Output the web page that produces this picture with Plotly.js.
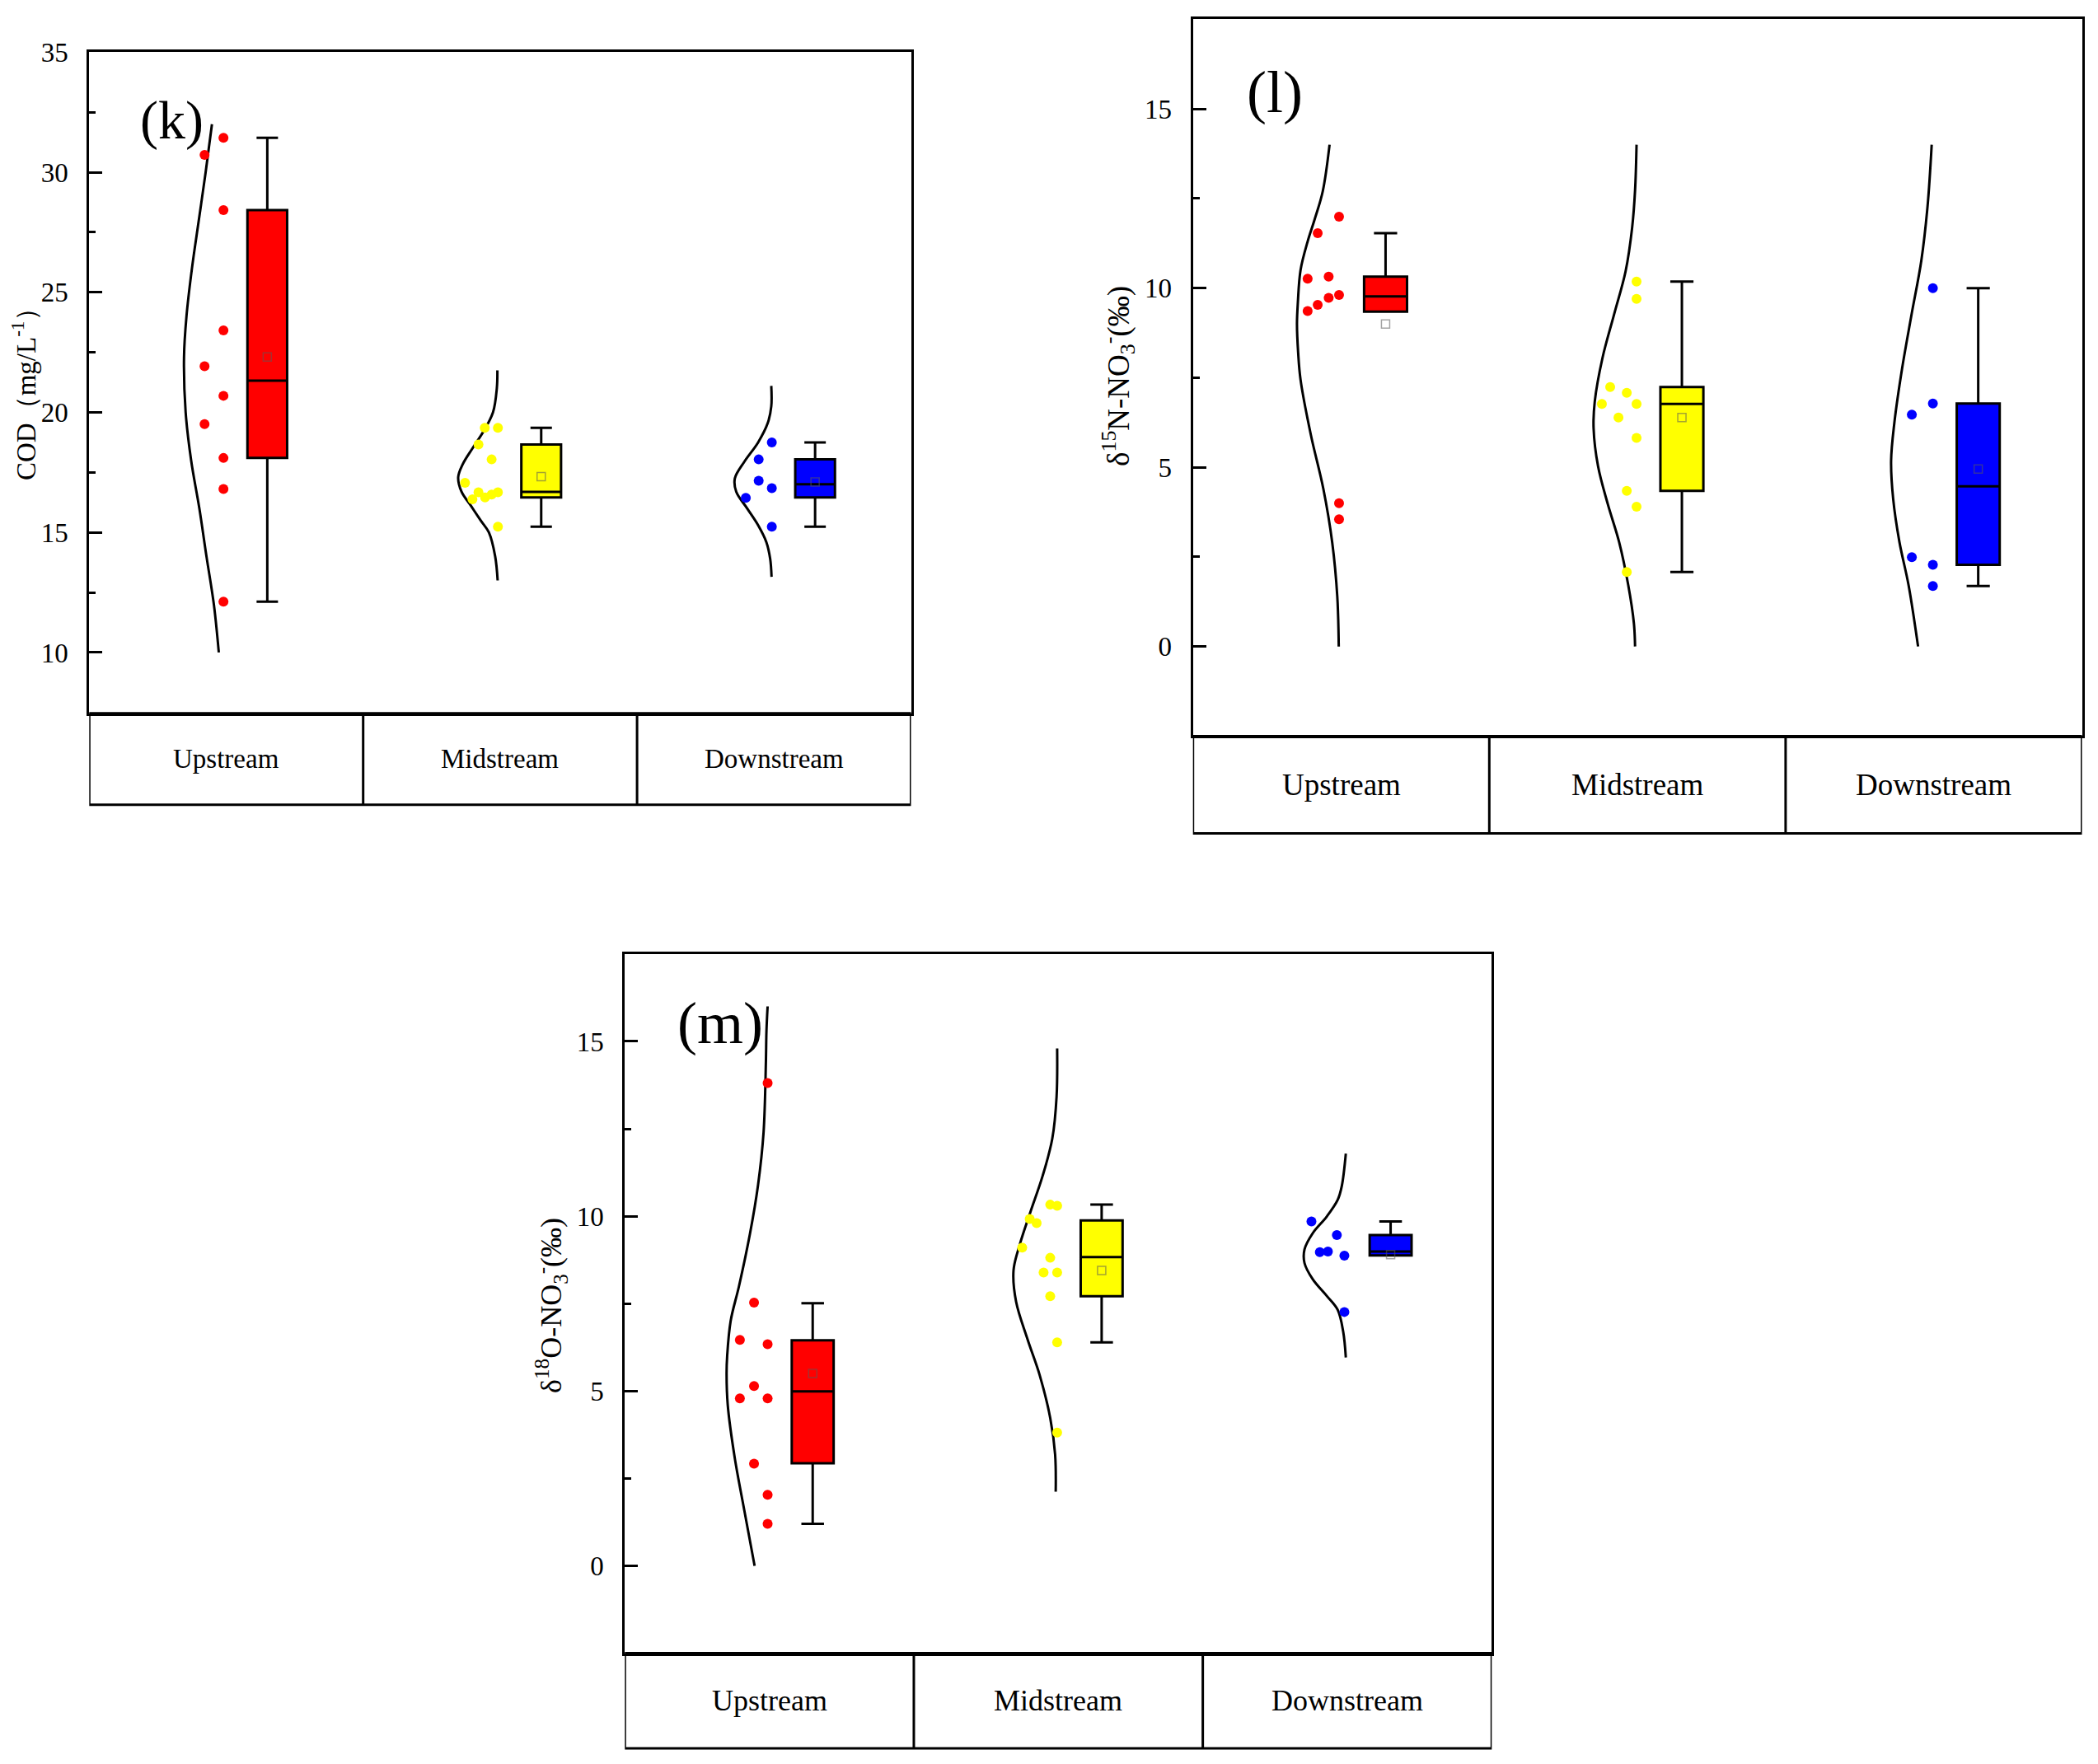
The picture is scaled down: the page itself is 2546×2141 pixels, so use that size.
<!DOCTYPE html>
<html><head><meta charset="utf-8">
<script src="https://cdn.plot.ly/plotly-3.0.1.min.js"></script>
<style>html,body{margin:0;padding:0;background:#fff;} #chart{width:2546px;height:2141px;}</style>
</head><body><div id="chart"></div>
<script>
// ---------------- DATA ----------------
const categories = ["Upstream", "Midstream", "Downstream"];
const groupColors = ["#FF0000", "#FFFF00", "#0000FF"];

// Panel (k) COD (mg/L-1)
const k_up_vals   = [31.43, 30.72, 28.42, 23.41, 21.92, 20.69, 19.51, 18.10, 16.81, 12.12];
const k_up_pos    = [0.490, 0.421, 0.490, 0.490, 0.421, 0.490, 0.421, 0.490, 0.490, 0.490];
const k_mid_vals  = [19.36, 19.36, 18.66, 18.04, 17.07, 16.67, 16.67, 16.58, 16.46, 16.38, 15.24];
const k_mid_pos   = [0.444, 0.492, 0.421, 0.469, 0.372, 0.421, 0.492, 0.469, 0.445, 0.399, 0.492];
const k_down_vals = [18.75, 18.04, 17.15, 16.84, 16.44, 15.24];
const k_down_pos  = [0.492, 0.444, 0.444, 0.492, 0.397, 0.492];
const k_lower  = [12.12, 15.24, 15.24];
const k_q1     = [18.10, 16.46, 16.46];
const k_median = [21.32, 16.69, 17.01];
const k_q3     = [28.42, 18.66, 18.04];
const k_upper  = [31.43, 19.36, 18.75];
const k_mean   = [22.31, 17.32, 17.10];
const k_curve_up_y   = [32.0, 30.0, 28.0, 26.0, 24.0, 22.3, 20.0, 18.0, 16.0, 14.0, 12.0, 10.0];
const k_curve_up_x   = [0.448, 0.425, 0.400, 0.375, 0.355, 0.346, 0.352, 0.372, 0.402, 0.428, 0.455, 0.473];
const k_curve_mid_y  = [21.75, 21.0, 20.0, 19.2, 18.5, 17.85, 17.3, 16.7, 16.1, 15.5, 15.0, 14.0, 13.0];
const k_curve_mid_x  = [0.490, 0.488, 0.474, 0.439, 0.399, 0.364, 0.347, 0.359, 0.394, 0.429, 0.459, 0.482, 0.491];
const k_curve_down_y = [21.1, 20.25, 19.55, 18.75, 17.95, 17.25, 16.7, 16.0, 15.3, 14.6, 13.9, 13.15];
const k_curve_down_x = [0.490, 0.490, 0.477, 0.442, 0.392, 0.357, 0.362, 0.402, 0.442, 0.472, 0.486, 0.491];

// Panel (l) d15N-NO3- (permil)
const l_up_vals   = [11.99, 11.53, 10.26, 10.32, 9.81, 9.73, 9.53, 9.36, 4.00, 3.55];
const l_up_pos    = [0.493, 0.421, 0.387, 0.458, 0.493, 0.458, 0.421, 0.387, 0.493, 0.493];
const l_mid_vals  = [10.18, 9.70, 7.24, 7.08, 6.77, 6.77, 6.39, 5.82, 4.34, 3.90, 2.08];
const l_mid_pos   = [0.497, 0.497, 0.408, 0.464, 0.380, 0.497, 0.436, 0.497, 0.464, 0.497, 0.464];
const l_down_vals = [10.00, 6.78, 6.47, 2.49, 2.28, 1.69];
const l_down_pos  = [0.497, 0.497, 0.426, 0.426, 0.497, 0.497];
const l_lower  = [9.34, 2.08, 1.69];
const l_q1     = [9.34, 4.34, 2.28];
const l_median = [9.77, 6.77, 4.47];
const l_q3     = [10.32, 7.24, 6.78];
const l_upper  = [11.53, 10.18, 10.00];
const l_mean   = [9.00, 6.39, 4.95];
const l_curve_up_y   = [14.0, 12.7, 11.9, 11.3, 10.5, 9.6, 9.0, 8.2, 7.45, 5.9, 4.4, 2.9, 1.4, 0];
const l_curve_up_x   = [0.461, 0.438, 0.410, 0.387, 0.363, 0.354, 0.351, 0.355, 0.363, 0.398, 0.440, 0.470, 0.487, 0.492];
const l_curve_mid_y  = [14.0, 12.73, 11.68, 10.47, 9.26, 8.05, 6.84, 6.09, 5.03, 3.97, 2.92, 1.71, 0.65, 0];
const l_curve_mid_x  = [0.497, 0.492, 0.482, 0.460, 0.421, 0.382, 0.356, 0.352, 0.367, 0.400, 0.438, 0.469, 0.488, 0.492];
const l_curve_down_y = [14.0, 12.28, 10.77, 9.26, 7.75, 6.24, 5.18, 4.12, 2.92, 1.71, 0];
const l_curve_down_x = [0.493, 0.479, 0.458, 0.425, 0.393, 0.367, 0.356, 0.363, 0.384, 0.415, 0.447];

// Panel (m) d18O-NO3- (permil)
const m_up_vals   = [13.81, 7.53, 6.46, 6.34, 5.14, 4.79, 4.79, 2.92, 2.03, 1.20];
const m_up_pos    = [0.494, 0.447, 0.398, 0.494, 0.447, 0.398, 0.494, 0.447, 0.494, 0.494];
const m_mid_vals  = [10.33, 10.30, 9.92, 9.80, 9.10, 8.81, 8.39, 8.39, 7.71, 6.39, 3.81];
const m_mid_pos   = [0.472, 0.496, 0.401, 0.425, 0.375, 0.472, 0.449, 0.496, 0.472, 0.496, 0.496];
const m_down_vals = [9.85, 9.46, 8.97, 8.99, 8.87, 7.26];
const m_down_pos  = [0.376, 0.464, 0.405, 0.433, 0.490, 0.490];
const m_lower  = [1.20, 6.39, 8.88];
const m_q1     = [2.93, 7.71, 8.88];
const m_median = [4.99, 8.83, 8.99];
const m_q3     = [6.45, 9.88, 9.46];
const m_upper  = [7.51, 10.33, 9.85];
const m_mean   = [5.50, 8.45, 8.90];
const m_curve_up_y   = [16.0, 15.3, 14.4, 12.4, 10.9, 9.5, 8.0, 7.0, 6.0, 5.5, 4.6, 3.1, 1.6, 0];
const m_curve_up_x   = [0.494, 0.490, 0.488, 0.480, 0.461, 0.433, 0.395, 0.366, 0.354, 0.352, 0.356, 0.380, 0.413, 0.449];
const m_curve_mid_y  = [14.8, 13.42, 12.21, 11.16, 10.11, 9.20, 8.45, 7.55, 6.49, 5.44, 4.23, 3.18, 2.12];
const m_curve_mid_x  = [0.496, 0.494, 0.479, 0.446, 0.403, 0.367, 0.345, 0.354, 0.393, 0.436, 0.472, 0.489, 0.491];
const m_curve_down_y = [11.79, 10.86, 10.47, 9.99, 9.52, 9.05, 8.66, 8.19, 7.72, 7.32, 6.69, 5.96];
const m_curve_down_x = [0.495, 0.481, 0.467, 0.429, 0.381, 0.352, 0.352, 0.381, 0.429, 0.467, 0.486, 0.495];

// ---------------- LAYOUT GEOMETRY ----------------
const W = 2546, H = 2141;
const FONT = "Liberation Serif, Times New Roman, serif";
const px = v => v / W;
const py = v => 1 - v / H;
const LW = 3;

const panels = [
  { xa: 'x',  ya: 'y',  left: 108.3, right: 1105.5, top: 63.3, bottom: 865.7, catBottom: 976.7,
    range: [7.47, 35], letter: '(k)', letterPos: [208, 146], letterSize: 66, catSize: 33, titleSize: 33,
    title: 'COD（mg/L<sup>-1</sup>）', titlePos: [29, 470],
    dots: [[k_up_vals, k_up_pos], [k_mid_vals, k_mid_pos], [k_down_vals, k_down_pos]],
    stats: { lo: k_lower, q1: k_q1, med: k_median, q3: k_q3, hi: k_upper, mean: k_mean },
    curves: [[k_curve_up_y, k_curve_up_x], [k_curve_mid_y, k_curve_mid_x], [k_curve_down_y, k_curve_down_x]] },
  { xa: 'x2', ya: 'y2', left: 1447.7, right: 2526.5, top: 23.4, bottom: 893.4, catBottom: 1011.5,
    range: [-2.5, 17.5], letter: '(l)', letterPos: [1547, 112], letterSize: 72, catSize: 37, titleSize: 37,
    title: 'δ<sup>15</sup>N-NO<sub>3</sub><sup>-</sup>(‰)', titlePos: [1357, 457],
    dots: [[l_up_vals, l_up_pos], [l_mid_vals, l_mid_pos], [l_down_vals, l_down_pos]],
    stats: { lo: l_lower, q1: l_q1, med: l_median, q3: l_q3, hi: l_upper, mean: l_mean },
    curves: [[l_curve_up_y, l_curve_up_x], [l_curve_mid_y, l_curve_mid_x], [l_curve_down_y, l_curve_down_x]] },
  { xa: 'x3', ya: 'y3', left: 758.3, right: 1810.3, top: 1157.9, bottom: 2006.5, catBottom: 2122.1,
    range: [-2.5, 17.5], letter: '(m)', letterPos: [874, 1242], letterSize: 72, catSize: 36, titleSize: 36,
    title: 'δ<sup>18</sup>O-NO<sub>3</sub><sup>-</sup>(‰)', titlePos: [669, 1584],
    dots: [[m_up_vals, m_up_pos], [m_mid_vals, m_mid_pos], [m_down_vals, m_down_pos]],
    stats: { lo: m_lower, q1: m_q1, med: m_median, q3: m_q3, hi: m_upper, mean: m_mean },
    curves: [[m_curve_up_y, m_curve_up_x], [m_curve_mid_y, m_curve_mid_x], [m_curve_down_y, m_curve_down_x]] }
];

const BOX_OFFSET = 0.65, BOX_WIDTH = 0.145;
const traces = [];
const layout = {
  width: W, height: H,
  margin: { l: 0, r: 0, t: 0, b: 0 },
  paper_bgcolor: '#fff', plot_bgcolor: '#fff',
  showlegend: false, boxmode: 'overlay',
  font: { family: FONT, color: '#000' },
  shapes: [], annotations: []
};

panels.forEach((p, pi) => {
  const sfx = pi === 0 ? '' : String(pi + 1);
  layout['xaxis' + sfx] = {
    domain: [px(p.left), px(p.right)], range: [0, 3], anchor: p.ya,
    showline: true, mirror: true, linecolor: '#000', linewidth: LW,
    ticks: '', showticklabels: false, showgrid: false, zeroline: false, fixedrange: true
  };
  layout['yaxis' + sfx] = {
    domain: [py(p.bottom), py(p.top)], range: p.range, anchor: p.xa,
    showline: true, mirror: true, linecolor: '#000', linewidth: LW,
    ticks: 'inside', ticklen: 16, tickwidth: LW, tickcolor: '#000',
    tick0: 0, dtick: 5,
    minor: { ticks: 'inside', ticklen: 8, tickwidth: LW, tickcolor: '#000', tick0: 0, dtick: 2.5 },
    showgrid: false, zeroline: false, fixedrange: true,
    tickfont: { family: FONT, size: 33, color: '#000' },
    ticklabelstandoff: 16
  };

  categories.forEach((cat, ci) => {
    // half-violin curve
    const [cy, cx] = p.curves[ci];
    traces.push({
      type: 'scatter', mode: 'lines', xaxis: p.xa, yaxis: p.ya,
      x: cx.map(v => ci + v), y: cy,
      line: { color: '#000', width: LW, shape: 'spline', smoothing: 1 },
      hoverinfo: 'skip'
    });
    // raw points
    const [vals, pos] = p.dots[ci];
    traces.push({
      type: 'scatter', mode: 'markers', xaxis: p.xa, yaxis: p.ya,
      x: pos.map(v => ci + v), y: vals,
      marker: { color: groupColors[ci], size: 12, line: { width: 0 } },
      name: cat
    });
    // box
    traces.push({
      type: 'box', xaxis: p.xa, yaxis: p.ya,
      x: [ci + BOX_OFFSET],
      q1: [p.stats.q1[ci]], median: [p.stats.med[ci]], q3: [p.stats.q3[ci]],
      lowerfence: [p.stats.lo[ci]], upperfence: [p.stats.hi[ci]],
      width: BOX_WIDTH, whiskerwidth: 0.54,
      fillcolor: groupColors[ci], line: { color: '#000', width: LW },
      boxpoints: false, hoverinfo: 'skip', name: cat
    });
    // mean marker
    traces.push({
      type: 'scatter', mode: 'markers', xaxis: p.xa, yaxis: p.ya,
      x: [ci + BOX_OFFSET], y: [p.stats.mean[ci]],
      marker: { symbol: 'square-open', size: 10, color: 'rgba(90,90,90,0.55)', line: { width: 1.5 } },
      hoverinfo: 'skip'
    });
    // category label
    layout.annotations.push({
      xref: p.xa, yref: 'paper', x: ci + 0.5, y: py((p.bottom + p.catBottom) / 2),
      xanchor: 'center', yanchor: 'middle', showarrow: false,
      text: cat, font: { family: FONT, size: p.catSize, color: '#000' }
    });
  });

  // category row box and dividers
  layout.shapes.push({
    type: 'rect', xref: p.xa, yref: 'paper', x0: 0, x1: 3,
    y0: py(p.catBottom), y1: py(p.bottom), line: { color: '#000', width: LW }
  });
  [1, 2].forEach(d => layout.shapes.push({
    type: 'line', xref: p.xa, yref: 'paper', x0: d, x1: d,
    y0: py(p.catBottom), y1: py(p.bottom), line: { color: '#000', width: LW }
  }));

  // panel letter
  layout.annotations.push({
    xref: 'paper', yref: 'paper', x: px(p.letterPos[0]), y: py(p.letterPos[1]),
    xanchor: 'center', yanchor: 'middle', showarrow: false,
    text: p.letter, font: { family: FONT, size: p.letterSize, color: '#000' }
  });
  // y-axis title
  layout.annotations.push({
    xref: 'paper', yref: 'paper', x: px(p.titlePos[0]), y: py(p.titlePos[1]),
    xanchor: 'center', yanchor: 'middle', showarrow: false, textangle: -90,
    text: p.title, font: { family: FONT, size: p.titleSize, color: '#000' }
  });
});

Plotly.newPlot('chart', traces, layout, { staticPlot: true, displayModeBar: false });
</script></body></html>
